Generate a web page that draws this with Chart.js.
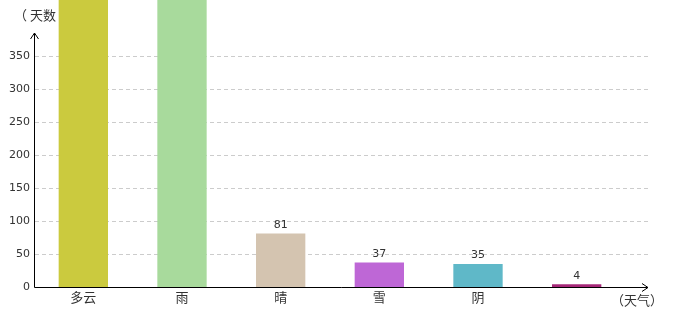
<!DOCTYPE html>
<html><head><meta charset="utf-8">
<script src="https://cdn.jsdelivr.net/npm/chart.js@4/dist/chart.umd.min.js"></script>
<style>html,body{margin:0;padding:0;background:#fff}#wrap{width:680px;height:320px}</style>
</head><body><div id="wrap"><canvas id="c" width="680" height="320"></canvas></div>
<script>
const categories = ["多云", "雨", "晴", "雪", "阴", ""];
const days = [600, 520, 81, 37, 35, 4];
const barColors = ["#CBCA3E", "#A8DA9C", "#D4C4B0", "#BE67D6", "#5FB8C8", "#A62878"];
const yTickValues = [0, 50, 100, 150, 200, 250, 300, 350];
const yTitle = "（ 天数 ）";
const xTitle = "（天气）";

const CJK = '"Noto Sans CJK SC", "DejaVu Sans", sans-serif';
const NUM = '"DejaVu Sans", sans-serif';

const decor = {
  id: 'decor',
  beforeDatasetsDraw(chart) {
    const ctx = chart.ctx, y = chart.scales.y, a = chart.chartArea;
    ctx.save();
    ctx.strokeStyle = '#cccccc';
    ctx.lineWidth = 1;
    ctx.setLineDash([4, 3]);
    yTickValues.forEach(v => {
      if (v === 0) return;
      const py = Math.round(y.getPixelForValue(v)) + 0.5;
      ctx.beginPath(); ctx.moveTo(a.left + 1, py); ctx.lineTo(648, py); ctx.stroke();
    });
    ctx.setLineDash([]);
    ctx.fillStyle = '#333';
    ctx.font = '13px ' + CJK;
    ctx.textBaseline = 'middle';
    ctx.textAlign = 'left';
    ctx.fillText(yTitle, 14, 15);
    ctx.restore();
  },
  afterDatasetsDraw(chart) {
    const ctx = chart.ctx, a = chart.chartArea;
    const meta = chart.getDatasetMeta(0);
    ctx.save();
    ctx.fillStyle = '#333';
    ctx.font = '11px ' + NUM;
    ctx.textAlign = 'center';
    ctx.textBaseline = 'bottom';
    meta.data.forEach((bar, i) => {
      if (bar.y > 10) ctx.fillText(String(days[i]), bar.x, bar.y - 3);
    });
    // axes
    const x0 = a.left + 0.5, y0 = Math.round(a.bottom) + 0.5;
    ctx.strokeStyle = '#000'; ctx.lineWidth = 1; ctx.setLineDash([]);
    ctx.beginPath(); ctx.moveTo(x0, y0); ctx.lineTo(648, y0); ctx.stroke();
    ctx.beginPath(); ctx.moveTo(642, y0 - 4); ctx.lineTo(648, y0); ctx.lineTo(642, y0 + 4); ctx.stroke();
    ctx.beginPath(); ctx.moveTo(x0, y0); ctx.lineTo(x0, 33); ctx.stroke();
    ctx.beginPath(); ctx.moveTo(x0 - 4, 39); ctx.lineTo(x0, 33); ctx.lineTo(x0 + 4, 39); ctx.stroke();
    ctx.fillStyle = '#333';
    ctx.font = '13px ' + CJK;
    ctx.textBaseline = 'middle';
    ctx.textAlign = 'left';
    ctx.fillText(xTitle, 611, 300);
    ctx.restore();
  }
};

new Chart(document.getElementById('c'), {
  type: 'bar',
  data: {
    labels: categories,
    datasets: [{
      data: days,
      backgroundColor: barColors,
      borderWidth: 0,
      barPercentage: 0.5,
      categoryPercentage: 1,
      clip: false
    }]
  },
  options: {
    responsive: false,
    animation: false,
    layout: { padding: { top: 36, right: 54, left: 0, bottom: 0 } },
    plugins: { legend: { display: false }, tooltip: { enabled: false } },
    scales: {
      x: {
        grid: { display: false, drawTicks: false },
        border: { display: false },
        ticks: { color: '#333', font: { size: 13, family: CJK }, padding: 2, maxRotation: 0, autoSkip: false },
        afterFit(s) { s.height = 33; }
      },
      y: {
        min: 0, max: 380,
        grid: { display: false, drawTicks: false },
        border: { display: false },
        afterBuildTicks(s) { s.ticks = yTickValues.map(v => ({ value: v })); },
        ticks: { color: '#333', font: { size: 11, family: NUM }, padding: 4 },
        afterFit(s) { s.width = 34; }
      }
    }
  },
  plugins: [decor]
});
</script>
</body></html>
